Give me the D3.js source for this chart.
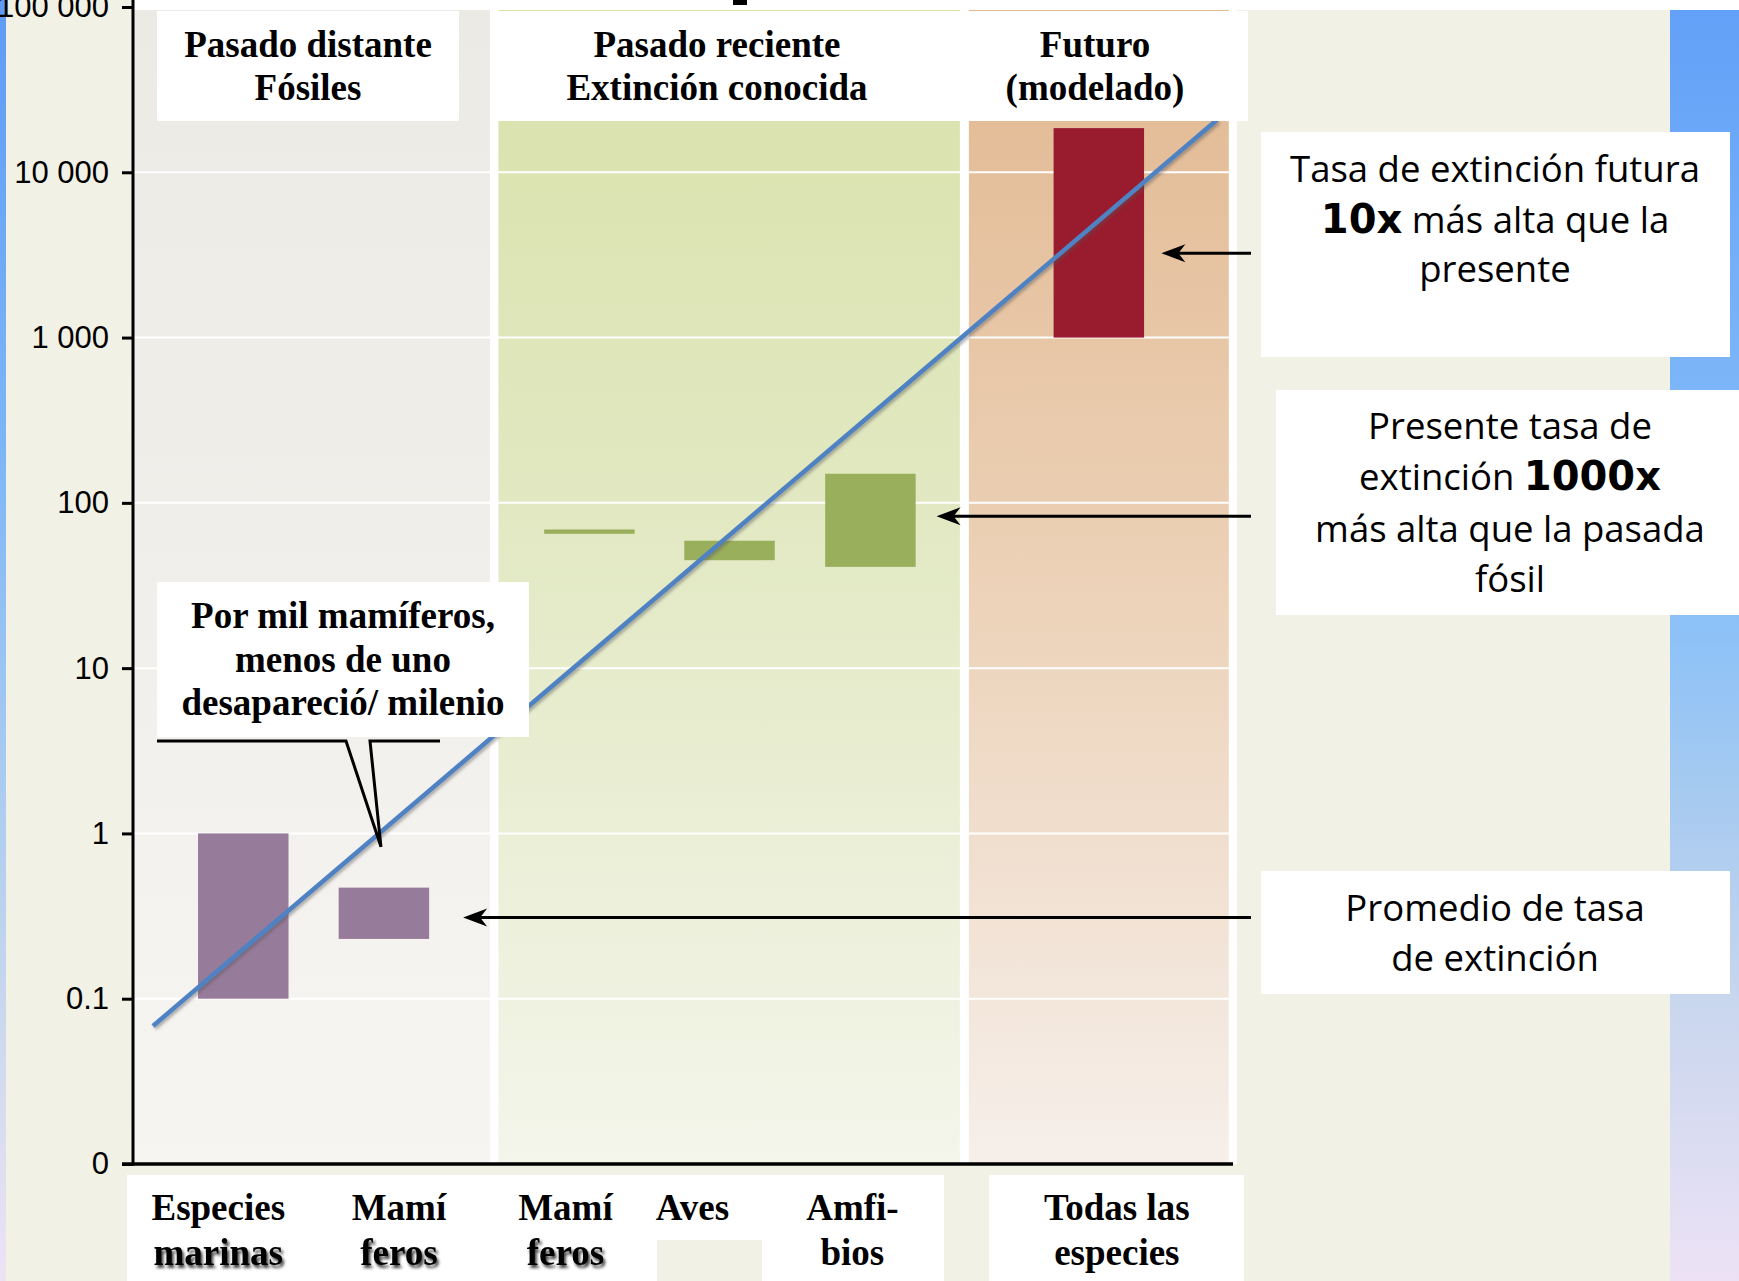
<!DOCTYPE html>
<html>
<head>
<meta charset="utf-8">
<script src="https://cdn.jsdelivr.net/npm/d3@7"></script>
<style>
  html, body { margin: 0; padding: 0; background: #F2F1E6; }
  svg { display: block; }
</style>
</head>
<body>
<svg id="chart" width="1739" height="1281"></svg>
<script>
// ---------------- DATA ----------------
const categories = ["Especies marinas", "Mamíferos (fósiles)", "Mamíferos (recientes)", "Aves", "Anfibios", "Todas las especies"];
const categoryLabels = [["Especies", "marinas"], ["Mamí", "feros"], ["Mamí", "feros"], ["Aves"], ["Amfi-", "bios"], ["Todas las", "especies"]];
const categoryPos = [0.785, 1.786, 3.249, 4.246, 5.249, 6.875];   // position along the x axis (column units)
const rateLow  = [0.1, 0.23, 65, 45, 41, 1000];
const rateHigh = [1, 0.47, 69, 59, 150, 18500];
const barPeriod = [0, 0, 1, 1, 1, 2];

const periodTitles = [["Pasado distante", "Fósiles"], ["Pasado reciente", "Extinción conocida"], ["Futuro", "(modelado)"]];
const periodStart = [0, 2.601, 5.95];
const periodEnd   = [2.541, 5.886, 7.80];

const tickValues = [0.01, 0.1, 1, 10, 100, 1000, 10000, 100000];
const tickLabels = ["0", "0.1", "1", "10", "100", "1 000", "10 000", "100 000"];

const trendX = [0.142, 7.715];
const trendRate = [0.0684, 20700];

// annotation anchors (data coordinates)
const arrowTipPos  = [7.32, 5.72, 2.35];
const arrowRate    = [3240, 83, 0.31];
const calloutTip   = [1.765, 0.83];

// ---------------- LAYOUT ----------------
const W = 1739, H = 1281;
const svg = d3.select("#chart");
const defs = svg.append("defs");

const x = d3.scaleLinear().domain([0, 7.83]).range([133, 1233]);
const y = d3.scaleLog().domain([0.01, 100000]).range([1164, 7]);
const plotTop = 10, plotBottom = y(0.01);
const barW = x(0.644) - x(0);

const serif = "'Liberation Serif', 'Times New Roman', serif";
const sans = "'Open Sans', 'Noto Sans', sans-serif";
const arial = "'Liberation Sans', Arial, sans-serif";

function vgrad(id, stops) {
  const g = defs.append("linearGradient").attr("id", id)
    .attr("x1", 0).attr("y1", 0).attr("x2", 0).attr("y2", 1);
  stops.forEach(([o, c]) => g.append("stop").attr("offset", o).attr("stop-color", c));
}
vgrad("gLeft",  [[0, "#5E9BF6"], [0.35, "#7DB6F6"], [0.6, "#A8CBF1"], [0.8, "#CCD8EE"], [1, "#EDE3F4"]]);
vgrad("gRight", [[0, "#62A0F8"], [0.3, "#7CB6F8"], [0.5, "#8EC2F7"], [0.62, "#A6CAF0"], [0.78, "#C8D6EE"], [1, "#EDE2F5"]]);
const panelGrads = ["gP1", "gP2", "gP3"];
vgrad("gP1", [[0, "#ECEAE5"], [0.5, "#F1EFEB"], [1, "#F6F5F2"]]);
vgrad("gP2", [[0, "#D9E1AA"], [0.45, "#E2E9C3"], [1, "#F4F5EB"]]);
vgrad("gP3", [[0, "#E2B891"], [0.45, "#EBCFB3"], [1, "#F6EFEA"]]);

const fShadow = defs.append("filter").attr("id", "lineShadow")
  .attr("x", "-5%").attr("y", "-5%").attr("width", "110%").attr("height", "110%");
fShadow.append("feDropShadow").attr("dx", 2).attr("dy", 2).attr("stdDeviation", 1.5)
  .attr("flood-color", "#555").attr("flood-opacity", 0.45);

const tShadow = defs.append("filter").attr("id", "textShadow")
  .attr("x", "-10%").attr("y", "-20%").attr("width", "130%").attr("height", "150%");
tShadow.append("feDropShadow").attr("dx", 2).attr("dy", 3).attr("stdDeviation", 1.6)
  .attr("flood-color", "#000").attr("flood-opacity", 0.75);

// ---------------- BACKGROUND ----------------
svg.append("rect").attr("width", W).attr("height", H).attr("fill", "#F2F1E6");
svg.append("rect").attr("x", 0).attr("y", 0).attr("width", 6).attr("height", H).attr("fill", "url(#gLeft)");
svg.append("rect").attr("x", 1670).attr("y", 0).attr("width", W - 1670).attr("height", H).attr("fill", "url(#gRight)");
svg.append("rect").attr("x", x(0)).attr("y", 0).attr("width", W - x(0)).attr("height", plotTop).attr("fill", "#ffffff");
// small cut-off piece of the slide title
svg.append("rect").attr("x", 733).attr("y", 0).attr("width", 14).attr("height", 5).attr("fill", "#000");

// plot white backing (shows as separators)
svg.append("rect").attr("x", x(0)).attr("y", plotTop).attr("width", 1237 - x(0))
  .attr("height", plotBottom - plotTop).attr("fill", "#ffffff");

// panels
svg.append("g").selectAll("rect").data(periodStart).join("rect")
  .attr("x", (d) => x(d))
  .attr("y", plotTop)
  .attr("width", (d, i) => x(periodEnd[i]) - x(d))
  .attr("height", plotBottom - plotTop)
  .attr("fill", (d, i) => `url(#${panelGrads[i]})`);

// gridlines
svg.append("g").selectAll("line").data(tickValues.filter(v => v > 0.01 && v < 100000)).join("line")
  .attr("x1", x(0)).attr("x2", x(periodEnd[2]))
  .attr("y1", d => y(d)).attr("y2", d => y(d))
  .attr("stroke", "#ffffff").attr("stroke-width", 2);

// ---------------- BARS ----------------
const barColors = ["#977B9B", "#9AAF5C", "#991B2E"];
svg.append("g").selectAll("rect").data(categories).join("rect")
  .attr("x", (d, i) => x(categoryPos[i]) - barW / 2)
  .attr("y", (d, i) => y(rateHigh[i]))
  .attr("width", barW)
  .attr("height", (d, i) => y(rateLow[i]) - y(rateHigh[i]))
  .attr("fill", (d, i) => barColors[barPeriod[i]]);

// ---------------- TREND LINE ----------------
const trendData = trendX.map((d, i) => [d, trendRate[i]]);
svg.append("path").datum(trendData)
  .attr("d", d3.line().x(d => x(d[0])).y(d => y(d[1])))
  .attr("fill", "none").attr("stroke", "#4F82C2").attr("stroke-width", 4.5)
  .attr("filter", "url(#lineShadow)");

// ---------------- HEADER BOXES ----------------
svg.append("rect").attr("x", 157).attr("y", 11).attr("width", 459 - 157).attr("height", 110).attr("fill", "#fff");
svg.append("rect").attr("x", x(periodEnd[0])).attr("y", 11).attr("width", 1248 - x(periodEnd[0])).attr("height", 110).attr("fill", "#fff");

const headerCenters = [308, 717, 1095];
periodTitles.forEach((lines, i) => {
  lines.forEach((t, j) => {
    svg.append("text").attr("x", headerCenters[i]).attr("y", 57 + j * 43)
      .attr("text-anchor", "middle").attr("font-family", serif).attr("font-weight", "bold")
      .attr("font-size", 37).attr("fill", "#000").text(t);
  });
});

// ---------------- CALLOUT ----------------
svg.append("rect").attr("x", 157).attr("y", 582).attr("width", 529 - 157).attr("height", 155).attr("fill", "#fff");
["Por mil mamíferos,", "menos de uno", "desapareció/ milenio"].forEach((t, j) => {
  svg.append("text").attr("x", 343).attr("y", 628 + j * 43.5)
    .attr("text-anchor", "middle").attr("font-family", serif).attr("font-weight", "bold")
    .attr("font-size", 37).attr("fill", "#000").text(t);
});
const tipX = x(calloutTip[0]), tipY = y(calloutTip[1]);
svg.append("path")
  .attr("d", `M157,741 L346,741 L${tipX},${tipY} L370,741 L440,741`)
  .attr("fill", "none").attr("stroke", "#000").attr("stroke-width", 3).attr("stroke-linejoin", "miter");

// ---------------- ARROWS ----------------
const arrowStartX = 1251;
arrowTipPos.forEach((p, i) => {
  const tx = x(p), ty = y(arrowRate[i]);
  svg.append("line").attr("x1", arrowStartX).attr("x2", tx + 14).attr("y1", ty).attr("y2", ty)
    .attr("stroke", "#000").attr("stroke-width", 3);
  svg.append("path")
    .attr("d", `M${tx},${ty} L${tx + 24},${ty - 9} L${tx + 17},${ty} L${tx + 24},${ty + 9} Z`)
    .attr("fill", "#000");
});

// ---------------- RIGHT TEXT BOXES ----------------
svg.append("rect").attr("x", 1261).attr("y", 132).attr("width", 469).attr("height", 225).attr("fill", "#fff");
svg.append("rect").attr("x", 1276).attr("y", 390).attr("width", W - 1276).attr("height", 225).attr("fill", "#fff");
svg.append("rect").attr("x", 1261).attr("y", 871).attr("width", 469).attr("height", 123).attr("fill", "#fff");

function richLine(cx, by, parts) {
  const t = svg.append("text").attr("x", cx).attr("y", by).attr("text-anchor", "middle")
    .attr("font-family", sans).attr("font-size", 36.5).attr("fill", "#000");
  parts.forEach(p => {
    const ts = t.append("tspan").text(p.t);
    if (p.b) ts.attr("font-family", "'DejaVu Sans', sans-serif").attr("font-weight", "bold").attr("font-size", 40);
  });
}
richLine(1495, 182, [{t: "Tasa de extinción futura"}]);
richLine(1495, 233, [{t: "10x", b: true}, {t: " más alta que la"}]);
richLine(1495, 282, [{t: "presente"}]);

richLine(1510, 439, [{t: "Presente tasa de"}]);
richLine(1510, 490, [{t: "extinción "}, {t: "1000x", b: true}]);
richLine(1510, 542, [{t: "más alta que la pasada"}]);
richLine(1510, 592, [{t: "fósil"}]);

richLine(1495, 921, [{t: "Promedio de tasa"}]);
richLine(1495, 971, [{t: "de extinción"}]);

// ---------------- AXES ----------------
const yAxis = d3.axisLeft(y).tickValues(tickValues)
  .tickFormat((d, i) => tickLabels[i]).tickSize(11).tickPadding(13);
const gy = svg.append("g").attr("transform", `translate(${x(0)},0)`).call(yAxis);
gy.select(".domain").remove();
gy.selectAll(".tick line").attr("stroke", "#000").attr("stroke-width", 3);
gy.selectAll(".tick text").attr("font-family", arial).attr("font-size", 31).attr("fill", "#000");

svg.append("line").attr("x1", x(0)).attr("x2", x(0)).attr("y1", 0).attr("y2", plotBottom + 1.5)
  .attr("stroke", "#000").attr("stroke-width", 3);
svg.append("line").attr("x1", x(0) - 11).attr("x2", 1233).attr("y1", plotBottom).attr("y2", plotBottom)
  .attr("stroke", "#000").attr("stroke-width", 3.5);

// ---------------- X LABELS ----------------
svg.append("rect").attr("x", 127).attr("y", 1175).attr("width", 944 - 127).attr("height", H - 1175).attr("fill", "#fff");
svg.append("rect").attr("x", 989).attr("y", 1175).attr("width", 1244 - 989).attr("height", H - 1175).attr("fill", "#fff");
svg.append("rect").attr("x", 657).attr("y", 1240).attr("width", 105).attr("height", H - 1240).attr("fill", "#F2F1E6");

const labelShift = [-25, 15, -24, -37, -18, 18];
const shadowed = [true, true, true, false, false, false];
categoryLabels.forEach((lines, i) => {
  lines.forEach((t, j) => {
    const tx = svg.append("text").attr("x", x(categoryPos[i]) + labelShift[i]).attr("y", 1220 + j * 45)
      .attr("text-anchor", "middle").attr("font-family", serif).attr("font-weight", "bold")
      .attr("font-size", 37).attr("fill", "#000").text(t);
    if (j === 1 && shadowed[i]) tx.attr("filter", "url(#textShadow)");
  });
});
</script>
</body>
</html>
